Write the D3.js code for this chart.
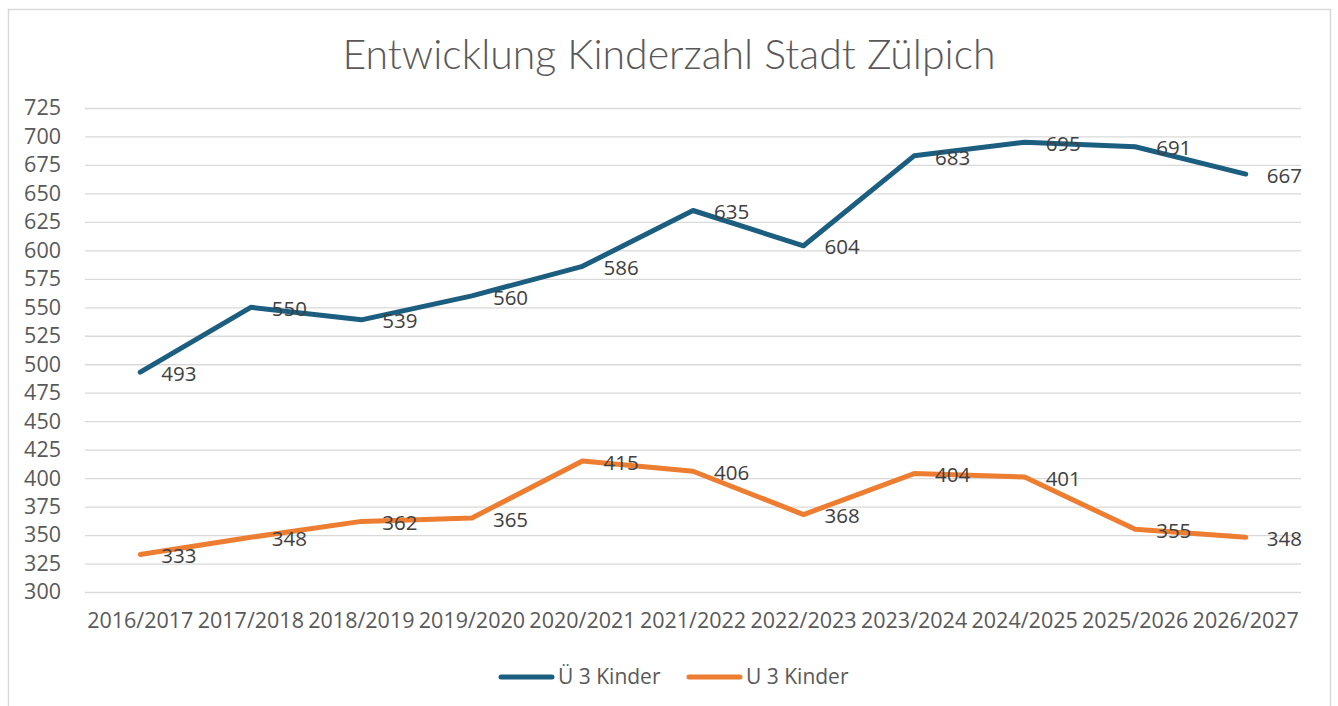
<!DOCTYPE html>
<html>
<head>
<meta charset="utf-8">
<script src="https://cdn.jsdelivr.net/npm/d3@7"></script>
<style>
  body { margin: 0; background: #fff; }
  svg { display: block; }
</style>
</head>
<body>
<svg id="chart" width="1338" height="706"></svg>
<script>
const years = ["2016/2017", "2017/2018", "2018/2019", "2019/2020", "2020/2021", "2021/2022",
  "2022/2023", "2023/2024", "2024/2025", "2025/2026", "2026/2027"]
const ue3 = [493, 550, 539, 560, 586, 635, 604, 683, 695, 691, 667]
const u3 = [333, 348, 362, 365, 415, 406, 368, 404, 401, 355, 348]
const yTicks = d3.range(300, 726, 25)

const series = [
  { name: "Ü 3 Kinder", values: ue3, color: "#1b5e80" },
  { name: "U 3 Kinder", values: u3, color: "#ed7d31" }
]

const svg = d3.select("#chart")
const plotLeft = 85, plotRight = 1301, plotTop = 108, plotBottom = 592

// chart frame
svg.append("rect")
  .attr("x", 8.5).attr("y", 9.5)
  .attr("width", 1322).attr("height", 720)
  .attr("fill", "#fff").attr("stroke", "#d9d9d9").attr("stroke-width", 1.5)

svg.append("text")
  .attr("x", 669).attr("y", 69)
  .attr("text-anchor", "middle")
  .attr("font-family", "Lato, 'Open Sans', sans-serif")
  .attr("font-weight", 300)
  .attr("font-size", 41)
  .attr("fill", "#595959")
  .text("Entwicklung Kinderzahl Stadt Zülpich")

const x = d3.scaleBand().domain(years).range([plotLeft, plotRight])
const y = d3.scaleLinear().domain([300, 725]).range([plotBottom, plotTop])
const cx = d => x(d) + x.bandwidth() / 2

// gridlines + y axis
const yAxis = svg.append("g")
  .attr("transform", `translate(${plotLeft},0)`)
  .call(d3.axisLeft(y).tickValues(yTicks).tickSize(-(plotRight - plotLeft)).tickPadding(24))
yAxis.select(".domain").remove()
yAxis.selectAll("line").attr("stroke", "#d9d9d9").attr("stroke-width", 1.3)
yAxis.selectAll("text")
  .attr("font-family", "'Open Sans', sans-serif")
  .attr("font-size", 21.5)
  .attr("fill", "#595959")

// x axis labels
const xAxis = svg.append("g")
  .attr("transform", `translate(0,${plotBottom})`)
  .call(d3.axisBottom(x).tickSize(0).tickPadding(21))
xAxis.select(".domain").remove()
xAxis.selectAll("text")
  .attr("font-family", "'Open Sans', sans-serif")
  .attr("font-size", 21.5)
  .attr("fill", "#595959")

const line = d3.line()
  .x((d, i) => cx(years[i]))
  .y(d => y(d))

series.forEach(s => {
  svg.append("path")
    .attr("d", line(s.values))
    .attr("fill", "none")
    .attr("stroke", s.color)
    .attr("stroke-width", 5)
    .attr("stroke-linecap", "round")
    .attr("stroke-linejoin", "round")

  svg.append("g").selectAll("text")
    .data(s.values)
    .join("text")
    .attr("x", (d, i) => cx(years[i]) + 21)
    .attr("y", d => y(d) + 1.5)
    .attr("dy", "0.35em")
    .attr("font-family", "'Open Sans', sans-serif")
    .attr("font-size", 20.5)
    .attr("fill", "#404040")
    .text(d => d)
})

// legend
const legend = svg.append("g")
const legendX = [499, 687]
series.forEach((s, i) => {
  legend.append("line")
    .attr("x1", legendX[i] + 2).attr("x2", legendX[i] + 53)
    .attr("y1", 677).attr("y2", 677)
    .attr("stroke", s.color).attr("stroke-width", 5)
    .attr("stroke-linecap", "round")
  legend.append("text")
    .attr("x", legendX[i] + 59).attr("y", 677)
    .attr("dy", "0.35em")
    .attr("font-family", "'Open Sans', sans-serif")
    .attr("font-size", 21)
    .attr("fill", "#595959")
    .text(s.name)
})
</script>
</body>
</html>
